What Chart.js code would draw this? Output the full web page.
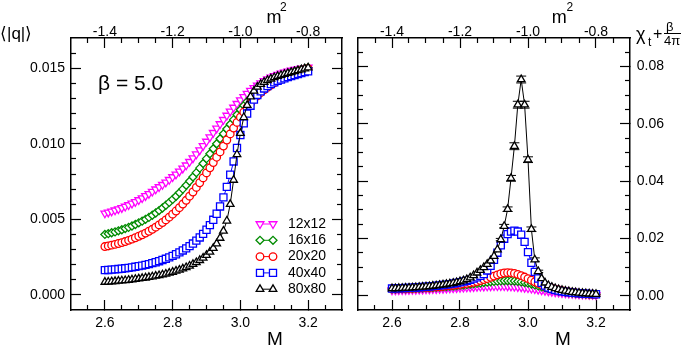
<!DOCTYPE html>
<html><head><meta charset="utf-8">
<script src="https://cdn.jsdelivr.net/npm/chart.js@4/dist/chart.umd.min.js"></script>
<style>
html,body{margin:0;padding:0;background:#fff;}
#wrap{position:relative;width:681px;height:346px;overflow:hidden;font-family:"Liberation Sans",Arial,sans-serif;color:#000;}
canvas{position:absolute;top:0;}
.t{position:absolute;white-space:nowrap;line-height:1;}
</style></head><body>
<div id="wrap">
<canvas id="cL" width="350" height="346" style="left:0;width:350px;height:346px"></canvas>
<canvas id="cR" width="331" height="346" style="left:350px;width:331px;height:346px"></canvas>
<div class="t" style="left:0;top:24.6px;font-size:17px">⟨|q|⟩</div>
<div class="t" style="left:98px;top:72.2px;font-size:21px">β = 5.0</div>
<div class="t" style="left:225px;width:100px;text-align:center;top:328.9px;font-size:19px">M</div>
<div class="t" style="left:513px;width:100px;text-align:center;top:328.9px;font-size:19px">M</div>
<div class="t" style="left:266.5px;top:7.8px;font-size:18px">m</div>
<div class="t" style="left:280px;top:1px;font-size:12px">2</div>
<div class="t" style="left:551.7px;top:7.8px;font-size:18px">m</div>
<div class="t" style="left:566.5px;top:1px;font-size:12px">2</div>
<div class="t" style="left:636px;top:24.8px;font-size:18px">χ</div>
<div class="t" style="left:648px;top:36.3px;font-size:12px">t</div>
<div class="t" style="left:653px;top:25.5px;font-size:16px">+</div>
<div class="t" style="left:666px;top:19.5px;font-size:13px">β</div>
<div style="position:absolute;left:664px;top:33px;width:17px;height:0;border-top:1px solid #000"></div>
<div class="t" style="left:664px;top:34px;font-size:13px">4π</div>
</div>
<script>
// ---------------- data ----------------
const M = [2.60,2.61,2.62,2.63,2.64,2.65,2.66,2.67,2.68,2.69,
           2.70,2.71,2.72,2.73,2.74,2.75,2.76,2.77,2.78,2.79,
           2.80,2.81,2.82,2.83,2.84,2.85,2.86,2.87,2.88,2.89,
           2.90,2.91,2.92,2.93,2.94,2.95,2.96,2.97,2.98,2.99,
           3.00,3.01,3.02,3.03,3.04,3.05,3.06,3.07,3.08,3.09,
           3.10,3.11,3.12,3.13,3.14,3.15,3.16,3.17,3.18,3.19,
           3.20];
const sizes = ['12x12','16x16','20x20','40x40','80x80'];

// <|q|>  (left panel)
const q12 = [0.00540,0.00546,0.00553,0.00560,0.00568,0.00576,0.00585,0.00595,0.00605,0.00616,
             0.00628,0.00641,0.00655,0.00669,0.00684,0.00699,0.00714,0.00729,0.00745,0.00762,
             0.00780,0.00798,0.00817,0.00837,0.00858,0.00881,0.00905,0.00931,0.00958,0.00986,
             0.01015,0.01044,0.01073,0.01102,0.01131,0.01159,0.01187,0.01214,0.01240,0.01265,
             0.01289,0.01311,0.01332,0.01352,0.01370,0.01387,0.01402,0.01416,0.01428,0.01439,
             0.01449,0.01458,0.01466,0.01473,0.01479,0.01485,0.01490,0.01494,0.01498,0.01502,
             0.01505];
const q16 = [0.00400,0.00405,0.00411,0.00417,0.00424,0.00431,0.00439,0.00447,0.00456,0.00466,
             0.00477,0.00488,0.00500,0.00513,0.00527,0.00542,0.00558,0.00575,0.00593,0.00612,
             0.00632,0.00653,0.00676,0.00700,0.00725,0.00752,0.00780,0.00809,0.00839,0.00870,
             0.00902,0.00934,0.00967,0.01000,0.01033,0.01066,0.01098,0.01129,0.01160,0.01192,
             0.01225,0.01253,0.01279,0.01303,0.01325,0.01345,0.01363,0.01379,0.01394,0.01408,
             0.01421,0.01433,0.01444,0.01454,0.01463,0.01471,0.01479,0.01486,0.01492,0.01498,
             0.01503];
const q20 = [0.00320,0.00324,0.00329,0.00334,0.00340,0.00346,0.00353,0.00361,0.00369,0.00378,
             0.00388,0.00398,0.00409,0.00421,0.00434,0.00448,0.00463,0.00479,0.00496,0.00514,
             0.00534,0.00555,0.00577,0.00601,0.00626,0.00653,0.00681,0.00711,0.00742,0.00774,
             0.00807,0.00841,0.00876,0.00911,0.00946,0.00985,0.01025,0.01065,0.01104,0.01141,
             0.01176,0.01209,0.01240,0.01268,0.01294,0.01317,0.01338,0.01357,0.01374,0.01389,
             0.01403,0.01416,0.01428,0.01439,0.01449,0.01458,0.01467,0.01475,0.01483,0.01490,
             0.01497];
const q40 = [0.00164,0.00165,0.00167,0.00169,0.00171,0.00173,0.00176,0.00179,0.00182,0.00186,
             0.00190,0.00194,0.00199,0.00204,0.00210,0.00216,0.00223,0.00231,0.00239,0.00248,
             0.00258,0.00269,0.00281,0.00294,0.00308,0.00323,0.00340,0.00359,0.00380,0.00404,
             0.00431,0.00462,0.00497,0.00537,0.00585,0.00645,0.00715,0.00795,0.00883,0.00972,
             0.01058,0.01135,0.01200,0.01252,0.01292,0.01323,0.01347,0.01366,0.01382,0.01395,
             0.01406,0.01416,0.01425,0.01433,0.01441,0.01448,0.01455,0.01462,0.01468,0.01474,
             0.01480];
const q80 = [0.00085,0.00086,0.00088,0.00090,0.00092,0.00094,0.00096,0.00098,0.00101,0.00104,
             0.00107,0.00110,0.00113,0.00117,0.00121,0.00125,0.00129,0.00134,0.00139,0.00145,
             0.00151,0.00158,0.00165,0.00173,0.00182,0.00192,0.00203,0.00215,0.00229,0.00245,
             0.00263,0.00284,0.00309,0.00339,0.00376,0.00423,0.00490,0.00600,0.00760,0.00930,
             0.01070,0.01175,0.01255,0.01312,0.01350,0.01376,0.01394,0.01408,0.01420,0.01430,
             0.01439,0.01447,0.01454,0.01461,0.01467,0.01473,0.01479,0.01485,0.01491,0.01497,
             0.01503];

// chi_t + beta/(4 pi)  (right panel)
const c12 = [0.00190,0.00193,0.00196,0.00199,0.00202,0.00205,0.00208,0.00212,0.00216,0.00220,
             0.00224,0.00228,0.00233,0.00238,0.00243,0.00248,0.00254,0.00260,0.00266,0.00272,
             0.00279,0.00286,0.00293,0.00300,0.00307,0.00314,0.00320,0.00326,0.00331,0.00335,
             0.00338,0.00339,0.00339,0.00337,0.00333,0.00327,0.00319,0.00309,0.00297,0.00283,
             0.00268,0.00251,0.00233,0.00214,0.00195,0.00176,0.00158,0.00141,0.00125,0.00111,
             0.00098,0.00087,0.00077,0.00068,0.00060,0.00053,0.00047,0.00042,0.00037,0.00033,
             0.00030];
const c16 = [0.00230,0.00233,0.00236,0.00239,0.00243,0.00247,0.00251,0.00256,0.00261,0.00266,
             0.00272,0.00278,0.00285,0.00292,0.00300,0.00308,0.00317,0.00327,0.00337,0.00348,
             0.00360,0.00373,0.00386,0.00400,0.00414,0.00429,0.00444,0.00459,0.00473,0.00486,
             0.00498,0.00508,0.00515,0.00519,0.00520,0.00517,0.00510,0.00498,0.00482,0.00461,
             0.00436,0.00408,0.00377,0.00344,0.00311,0.00278,0.00246,0.00216,0.00189,0.00164,
             0.00142,0.00123,0.00107,0.00093,0.00081,0.00071,0.00062,0.00055,0.00049,0.00044,
             0.00040];
const c20 = [0.00240,0.00243,0.00246,0.00250,0.00254,0.00258,0.00263,0.00268,0.00274,0.00280,
             0.00287,0.00294,0.00302,0.00311,0.00320,0.00330,0.00341,0.00353,0.00366,0.00380,
             0.00395,0.00411,0.00429,0.00448,0.00469,0.00496,0.00528,0.00563,0.00600,0.00640,
             0.00684,0.00728,0.00766,0.00792,0.00802,0.00797,0.00778,0.00745,0.00702,0.00651,
             0.00596,0.00540,0.00485,0.00432,0.00383,0.00338,0.00297,0.00260,0.00227,0.00198,
             0.00172,0.00150,0.00130,0.00113,0.00098,0.00085,0.00074,0.00064,0.00056,0.00049,
             0.00043];
const c40 = [0.00250,0.00254,0.00258,0.00263,0.00268,0.00274,0.00280,0.00287,0.00295,0.00303,
             0.00312,0.00322,0.00333,0.00345,0.00358,0.00372,0.00388,0.00405,0.00424,0.00445,
             0.00468,0.00494,0.00523,0.00556,0.00594,0.00638,0.00690,0.00752,0.00880,0.01040,
             0.01250,0.01500,0.01760,0.01990,0.02150,0.02240,0.02270,0.02240,0.02130,0.01880,
             0.01520,0.01150,0.00830,0.00600,0.00450,0.00350,0.00285,0.00240,0.00205,0.00178,
             0.00156,0.00138,0.00122,0.00108,0.00096,0.00086,0.00077,0.00069,0.00062,0.00056,
             0.00050];
const c80 = [0.00250,0.00254,0.00258,0.00263,0.00268,0.00274,0.00280,0.00287,0.00295,0.00304,
             0.00314,0.00325,0.00337,0.00350,0.00364,0.00380,0.00398,0.00418,0.00440,0.00465,
             0.00494,0.00527,0.00565,0.00630,0.00710,0.00800,0.00890,0.00990,0.01100,0.01220,
             0.01380,0.01610,0.01960,0.02430,0.03020,0.04100,0.05220,0.06670,0.07550,0.06670,
             0.04750,0.02320,0.01260,0.00850,0.00600,0.00450,0.00360,0.00300,0.00255,0.00220,
             0.00190,0.00165,0.00144,0.00126,0.00110,0.00096,0.00084,0.00074,0.00065,0.00057,
             0.00050];
const e80 = [0,0,0,0,0,0,0,0,0,0,
             0,0,0,0,0,0,0,0,0,0,
             0,0,0,0,0,0,0,0,0,0,
             0,0,0.0004,0.0006,0.0008,0.0010,0.0012,0.0012,0.0012,0.0012,
             0.0010,0.0008,0.0006,0.0004,0,0,0,0,0,0,
             0,0,0,0,0,0,0,0,0,0,
             0];

// ticks
const xMajor = [2.6, 2.8, 3.0, 3.2];
const xMajorLabels = ['2.6','2.8','3.0','3.2'];
const xMinor = [2.55,2.65,2.7,2.75,2.85,2.9,2.95,3.05,3.1,3.15,3.25];
const mMajor = [-1.4,-1.2,-1.0,-0.8];
const mMajorLabels = ['-1.4','-1.2','-1.0','-0.8'];
const mMinor = [-1.45,-1.35,-1.3,-1.25,-1.15,-1.1,-1.05,-0.95,-0.9,-0.85,-0.75];
const qMajor = [0, 0.005, 0.010, 0.015];
const qMajorLabels = ['0.000','0.005','0.010','0.015'];
const qMinor = [0.001,0.002,0.003,0.004,0.006,0.007,0.008,0.009,0.011,0.012,0.013,0.014,0.016];
const cMajor = [0, 0.02, 0.04, 0.06, 0.08];
const cMajorLabels = ['0.00','0.02','0.04','0.06','0.08'];
const cMinor = [0.005,0.01,0.015,0.025,0.03,0.035,0.045,0.05,0.055,0.065,0.07,0.075,0.085];

// ---------------- styling ----------------
const FONT = "'Liberation Sans', Arial, sans-serif";
const COLORS = ['#ff00ff','#008b00','#ff0000','#0000ff','#000000'];
const PSTYLE = ['triangle','rectRot','circle','rect','triangle'];
const PROT = [180,0,0,0,0];
const PRAD = [4.5,4,3.8,5,4.4];

function ax(o) {
  const horiz = o.pos === 'top' || o.pos === 'bottom';
  return {
    type: 'linear', position: o.pos, min: o.min, max: o.max, weight: o.major ? 1 : 0, display: true,
    afterBuildTicks: s => { s.ticks = o.ticks.map(v => ({value: v})); },
    afterFit: s => { if (horiz) s.height = o.size || 0; else s.width = o.size || 0; },
    border: {display: !!o.major, color: '#000', width: 1.5},
    grid: {display: true, drawOnChartArea: false, drawTicks: true, tickLength: o.major ? -10 : -5,
           tickColor: '#000', tickWidth: 1.2},
    ticks: {autoSkip: false, maxRotation: 0, minRotation: 0, padding: o.pad || 0, color: '#000',
            font: {family: FONT, size: 14},
            callback: (v, i) => o.labels ? o.labels[i] : ''}
  };
}

function makeSets(series, errs) {
  return series.map((vals, k) => ({
    label: sizes[k],
    data: M.map((m, i) => ({x: m, y: vals[i]})),
    errors: errs ? errs[k] : null,
    borderColor: COLORS[k], borderWidth: 1,
    pointBorderColor: COLORS[k], pointBackgroundColor: '#ffffff',
    pointStyle: PSTYLE[k], pointRotation: PROT[k], pointRadius: PRAD[k], pointHoverRadius: PRAD[k],
    pointBorderWidth: 1.3, tension: 0, fill: false, order: 4 - k,
    xAxisID: 'x', yAxisID: 'y'
  }));
}

const errPlugin = {
  id: 'errbars',
  beforeDatasetsDraw(chart) {
    const ctx = chart.ctx;
    chart.data.datasets.forEach((ds, di) => {
      if (!ds.errors) return;
      const meta = chart.getDatasetMeta(di);
      const ys = chart.scales[meta.yAxisID];
      ctx.save();
      ctx.strokeStyle = ds.borderColor; ctx.lineWidth = 1;
      meta.data.forEach((pt, i) => {
        const e = ds.errors[i]; if (!e) return;
        const v = ds.data[i].y;
        const y1 = ys.getPixelForValue(v - e), y2 = ys.getPixelForValue(v + e);
        ctx.beginPath();
        ctx.moveTo(pt.x, y1); ctx.lineTo(pt.x, y2);
        ctx.moveTo(pt.x - 5, y1); ctx.lineTo(pt.x + 5, y1);
        ctx.moveTo(pt.x - 5, y2); ctx.lineTo(pt.x + 5, y2);
        ctx.stroke();
      });
      ctx.restore();
    });
  }
};

const legendPlugin = {
  id: 'innerLegend',
  afterDraw(chart) {
    const {ctx, chartArea} = chart;
    chart.data.datasets.forEach((ds, i) => {
      const y = chartArea.bottom - 86 + i * 16.3;
      const x1 = chartArea.right - 82, x2 = chartArea.right - 69;
      ctx.save();
      ctx.strokeStyle = ds.borderColor; ctx.lineWidth = 1;
      ctx.beginPath(); ctx.moveTo(x1, y); ctx.lineTo(x2, y); ctx.stroke();
      const po = {pointStyle: ds.pointStyle, rotation: ds.pointRotation, radius: ds.pointRadius, borderWidth: ds.pointBorderWidth};
      ctx.fillStyle = '#ffffff'; ctx.strokeStyle = ds.borderColor; ctx.lineWidth = ds.pointBorderWidth;
      Chart.helpers.drawPoint(ctx, po, x1, y);
      Chart.helpers.drawPoint(ctx, po, x2, y);
      ctx.fillStyle = '#000'; ctx.font = '14px ' + FONT;
      ctx.textBaseline = 'middle'; ctx.textAlign = 'left';
      ctx.fillText(ds.label, chartArea.right - 54, y);
      ctx.restore();
    });
  }
};

const commonX = {
  x:   ax({pos:'bottom', min:2.5, max:3.3, ticks:xMajor, labels:xMajorLabels, major:true, size:36, pad:14.6}),
  xm:  ax({pos:'bottom', min:2.5, max:3.3, ticks:xMinor}),
  xt:  ax({pos:'top', min:-1.5, max:-0.7, ticks:mMajor, labels:mMajorLabels, major:true, size:38, pad:7.2}),
  xtm: ax({pos:'top', min:-1.5, max:-0.7, ticks:mMinor})
};

const base = {
  responsive: false, animation: false, devicePixelRatio: 1, events: [],
  plugins: {legend: {display: false}, tooltip: {enabled: false}}
};

new Chart(document.getElementById('cL'), {
  type: 'line',
  data: {datasets: makeSets([q12, q16, q20, q40, q80])},
  options: Object.assign({}, base, {
    layout: {padding: {left: 0, right: 8, top: 0, bottom: 0}},
    scales: Object.assign({}, commonX, {
      y:   ax({pos:'left', min:-0.001, max:0.017, ticks:qMajor, labels:qMajorLabels, major:true, size:71, pad:16}),
      ym:  ax({pos:'left', min:-0.001, max:0.017, ticks:qMinor}),
      yr:  ax({pos:'right', min:-0.001, max:0.017, ticks:qMajor, major:true, size:0}),
      yrm: ax({pos:'right', min:-0.001, max:0.017, ticks:qMinor})
    })
  }),
  plugins: [legendPlugin]
});

new Chart(document.getElementById('cR'), {
  type: 'line',
  data: {datasets: makeSets([c12, c16, c20, c40, c80], [null, null, null, null, e80])},
  options: Object.assign({}, base, {
    layout: {padding: {left: 8, right: 0, top: 0, bottom: 0}},
    scales: Object.assign({}, commonX, {
      yl:  ax({pos:'left', min:-0.005, max:0.09, ticks:cMajor, major:true, size:0}),
      ylm: ax({pos:'left', min:-0.005, max:0.09, ticks:cMinor}),
      y:   ax({pos:'right', min:-0.005, max:0.09, ticks:cMajor, labels:cMajorLabels, major:true, size:51, pad:16.7}),
      ym:  ax({pos:'right', min:-0.005, max:0.09, ticks:cMinor})
    })
  }),
  plugins: [errPlugin]
});
</script>
</body></html>
